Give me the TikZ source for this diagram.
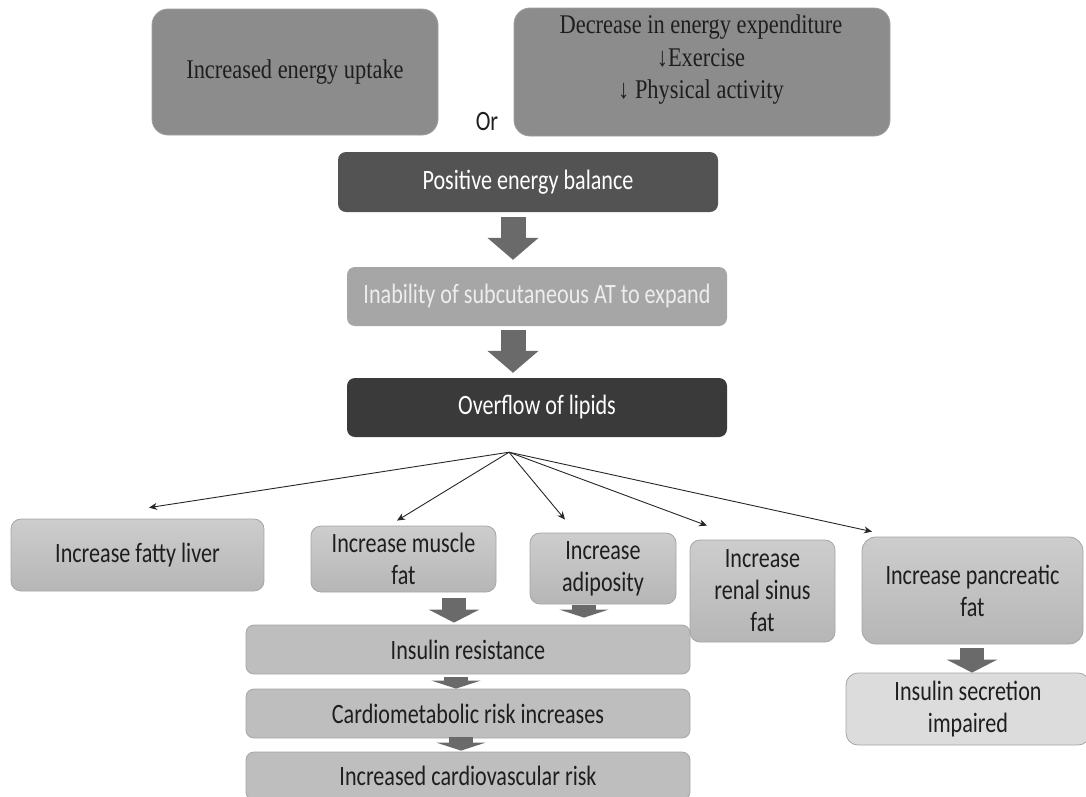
\documentclass[tikz,border=0pt]{standalone}
\usepackage{fontspec}
\setmainfont{Carlito}[FakeStretch=0.79]
\newfontfamily\serifF{Liberation Serif}[FakeStretch=0.83]
\usetikzlibrary{arrows.meta,calc}
\definecolor{topgray}{HTML}{8C8C8C}
\definecolor{posgray}{HTML}{535353}
\definecolor{inagray}{HTML}{A6A6A6}
\definecolor{ovfgray}{HTML}{3A3A3A}
\definecolor{lowtop}{HTML}{CDCDCD}
\definecolor{lowbot}{HTML}{B6B6B6}
\definecolor{flowgray}{HTML}{BEBEBE}
\definecolor{secgray}{HTML}{DCDCDC}
\definecolor{edgegray}{HTML}{A5A5A5}
\definecolor{arrowgray}{HTML}{6A6A6A}
\definecolor{txt}{HTML}{1E1E1E}
\begin{document}
\begin{tikzpicture}[x=1pt,y=-1pt,
  box/.style={rounded corners=10pt, align=center, inner sep=2pt, text=txt,
    font=\fontsize{28}{32}\selectfont},
  topbox/.style={box, fill=topgray, draw=topgray!85!white, line width=0.8pt, rounded corners=16pt,
    font=\serifF\fontsize{27}{32.5}\selectfont},
  darkbox/.style={box, rounded corners=8pt, text=white},
  lowbox/.style={box, top color=lowtop, bottom color=lowbot, draw=edgegray, line width=0.8pt},
  flowbox/.style={box, rounded corners=8pt, fill=flowgray, draw=edgegray, line width=0.8pt},
  fanarrow/.style={-{Stealth[length=8pt,width=7pt]}, line width=0.9pt, draw=black!85},
  barrow/.style={draw=arrowgray, line width=25pt, -{Triangle[length=22pt,width=50pt]}},
  sbarrow/.style={draw=arrowgray, line width=24pt, -{Triangle[length=13pt,width=50pt]}},
  tbarrow/.style={draw=arrowgray, line width=24pt, -{Triangle[length=8pt,width=49pt]}}
]
\useasboundingbox (0,0) rectangle (1086,796);
\clip (0,0) rectangle (1086,796);

% top row
\node[topbox, minimum width=286pt, minimum height=126pt] (up) at (295,72) {Increased energy uptake};
\node[topbox, minimum width=376pt, minimum height=128pt] (dec) at (702,72) {};
\node[align=center, text=txt, font=\serifF\fontsize{27}{32.5}\selectfont] (dectxt) at (701,60)
  {Decrease in energy expenditure\\↓Exercise\\↓ Physical activity};
\node[text=txt, font=\fontsize{28}{30}\selectfont, inner sep=0pt] (or) at (487,122) {Or};

% central chain
\node[darkbox, fill=posgray, minimum width=380pt, minimum height=60pt] (pos) at (528,182) {Positive energy balance};
\node[darkbox, fill=inagray, text=black!7, minimum width=380pt, minimum height=59pt] (ina) at (537,296.5) {Inability of subcutaneous AT to expand};
\node[darkbox, fill=ovfgray, minimum width=380pt, minimum height=59pt] (ovf) at (537,407.5) {Overflow of lipids};

\draw[barrow] ($(pos.south)+(-15pt,-5pt)$) -- ($(ina.north)+(-24pt,7pt)$);
\draw[barrow] ($(ina.south)+(-24pt,-4pt)$) -- ($(ovf.north)+(-24pt,5pt)$);

% lower boxes
\node[lowbox, minimum width=253pt, minimum height=72pt] (liv) at (137.5,555) {Increase fatty liver};
\node[lowbox, minimum width=185pt, minimum height=66pt] (mus) at (403.5,559) {Increase muscle\\fat};
\node[lowbox, minimum width=146pt, minimum height=71pt] (adi) at (603,568.5) {Increase\\adiposity};
\node[lowbox, minimum width=145pt, minimum height=102pt] (ren) at (762.5,591) {Increase\\renal sinus\\fat};
\node[lowbox, minimum width=221pt, minimum height=107pt, rounded corners=14pt] (pan) at (972.5,590.5) {Increase pancreatic\\fat};

% fan
\coordinate (fan) at ($(ovf.south)+(-28pt,-15pt)$);
\draw[fanarrow] (fan) -- ($(liv.north)+(11.5pt,11pt)$);
\draw[fanarrow] (fan) -- ($(mus.north)+(-6.5pt,5pt)$);
\draw[fanarrow] (fan) -- ($(adi.north)+(-38pt,13pt)$);
\draw[fanarrow] (fan) -- ($(ren.north)+(-55.5pt,14pt)$);
\draw[fanarrow] (fan) -- ($(pan.north)+(-100.5pt,5pt)$);

% flow chain
\node[flowbox, minimum width=444pt, minimum height=49pt] (ir) at (468,649.5) {Insulin resistance};
\node[flowbox, minimum width=444pt, minimum height=49pt] (cm) at (468,713.5) {Cardiometabolic risk increases};
\node[flowbox, minimum width=444pt, minimum height=48pt] (cv) at (468,776) {Increased cardiovascular risk};
\node[box, rounded corners=12pt, fill=secgray, draw=edgegray, line width=0.8pt, minimum width=244pt, minimum height=72pt] (sec) at (968,709) {Insulin secretion\\impaired};

\draw[sbarrow] ($(mus.south)+(50.5pt,-6pt)$) -- ($(ir.north)+(-14pt,2pt)$);
\draw[tbarrow] ($(adi.south)+(-19pt,-1pt)$) -- ($(ir.north)+(116pt,7pt)$);
\draw[tbarrow] ($(ir.south)+(-12pt,-3pt)$) -- ($(cm.north)+(-12pt,0pt)$);
\draw[tbarrow] ($(cm.south)+(-7pt,1pt)$) -- ($(cv.north)+(-7pt,1pt)$);
\draw[sbarrow] ($(pan.south)+(-0.5pt,-4pt)$) -- ($(sec.north)+(4pt,0pt)$);
\end{tikzpicture}
\end{document}
